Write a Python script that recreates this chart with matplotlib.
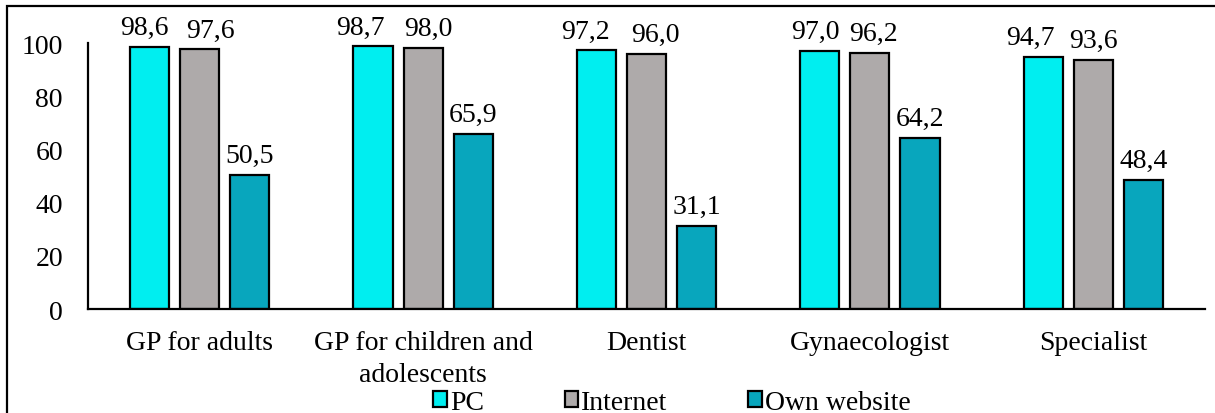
import numpy as np
import matplotlib.pyplot as plt
from matplotlib.patches import Rectangle

plt.rcParams['font.family'] = 'serif'
plt.rcParams['font.serif'] = ['Liberation Serif', 'DejaVu Serif']

# dados
categorias = ['GP for adults', 'GP for children and\nadolescents', 'Dentist', 'Gynaecologist', 'Specialist']
series = ['PC', 'Internet', 'Own website']
pc = [98.6, 98.7, 97.2, 97.0, 94.7]
internet = [97.6, 98.0, 96.0, 96.2, 93.6]
site_proprio = [50.5, 65.9, 31.1, 64.2, 48.4]
yticks = [0, 20, 40, 60, 80, 100]

cores = ['#00EEF0', '#AEAAAA', '#08A6BD']
# deslocamento horizontal dos rótulos (px), como no original
desloc = [[-5.5, -13, -11.5, -4.5, -12.5],
          [11, 5.5, 8.5, 4, 0],
          [0, 0, 0, 0, 0]]
fs = 20

fig = plt.figure(figsize=(12.15, 4.14), dpi=100)
ax = fig.add_axes([0.0724, 0.2512, 0.9194, 0.6425])

x = np.arange(len(categorias))
passo = 0.224
largura = 0.175
for i, (nome, vals) in enumerate(zip(series, [pc, internet, site_proprio])):
    ax.bar(x + (i - 1) * passo, vals, largura, color=cores[i], edgecolor='black',
           linewidth=1.6, label=nome)
    for j, v in enumerate(vals):
        ax.annotate(f'{v:.1f}'.replace('.', ','), (x[j] + (i - 1) * passo, v),
                    xytext=(desloc[i][j] * 0.72, 5), textcoords='offset points',
                    ha='center', va='bottom', fontsize=fs)

ax.set_xlim(-0.5, len(categorias) - 0.5)
ax.set_ylim(0, 100)
ax.set_yticks(yticks)
ax.set_xticks(x)
ax.set_xticklabels(categorias, fontsize=fs, linespacing=1.38)
ax.tick_params(axis='y', length=0, pad=18, labelsize=fs)
ax.tick_params(axis='x', length=0, pad=15)
for lado in ['top', 'right']:
    ax.spines[lado].set_visible(False)
ax.spines['left'].set_linewidth(1.6)
ax.spines['bottom'].set_linewidth(1.6)

fig.legend(loc='lower center', bbox_to_anchor=(0.553, -0.065), ncol=3, frameon=False,
           fontsize=fs, handlelength=0.5, handleheight=0.5, handletextpad=0.1,
           columnspacing=2.9)

fig.patches.append(Rectangle((0.0058, -0.1), 1.1, 1.083, transform=fig.transFigure,
                             fill=False, edgecolor='black', linewidth=1.6))

plt.savefig('out.png', dpi=100)
plt.close()
